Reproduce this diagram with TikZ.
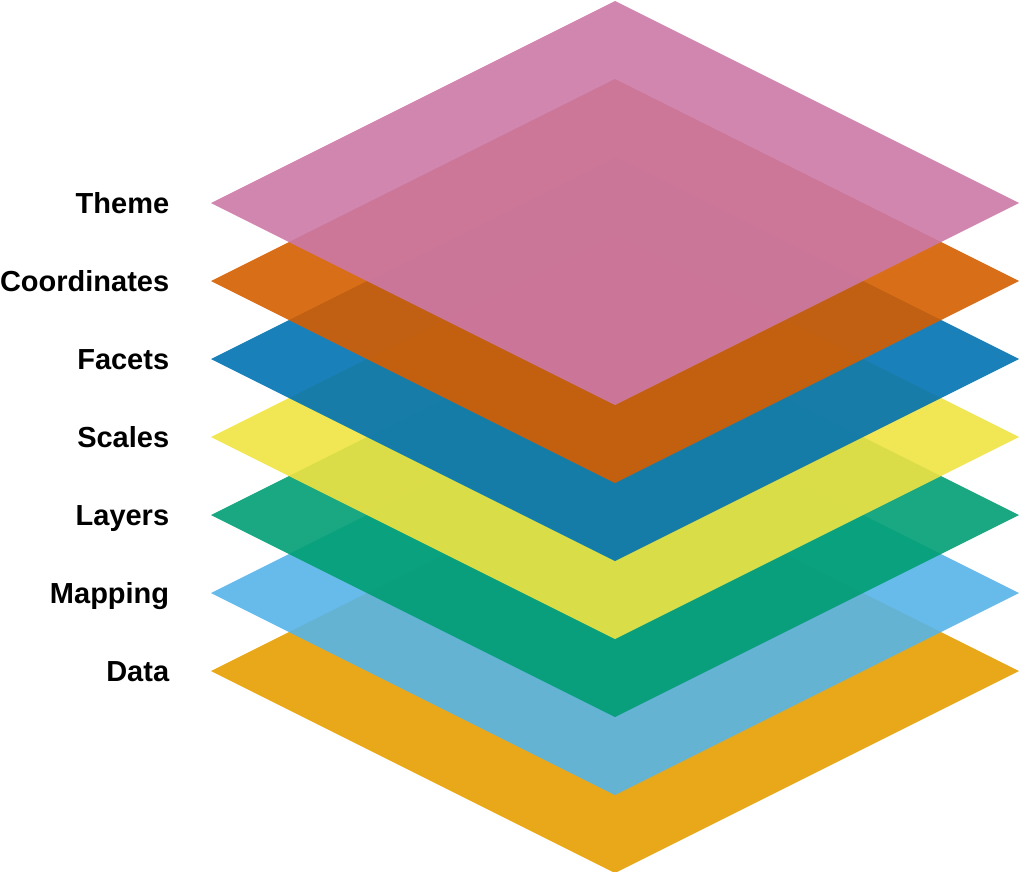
\documentclass[tikz,border=0pt]{standalone}
\usepackage{fontspec}
\setmainfont{Liberation Sans}
\definecolor{dataC}{HTML}{E69F00}
\definecolor{mapC}{HTML}{56B4E9}
\definecolor{layerC}{HTML}{009E73}
\definecolor{scaleC}{HTML}{F0E442}
\definecolor{facetC}{HTML}{0072B2}
\definecolor{coordC}{HTML}{D55E00}
\definecolor{themeC}{HTML}{CC79A7}
\tikzset{
  plane/.style={fill=#1, fill opacity=0.9},
  layerlabel/.style={anchor=base east, inner sep=0pt,
    font=\bfseries\fontsize{16.5}{18}\selectfont}
}

\begin{document}
\begin{tikzpicture}[x=0.02cm,y=-0.02cm]
        \useasboundingbox (0,0) rectangle (1019,872);
        % stack, bottom layer first
        \foreach \name/\col [count=\i from 0] in {Data/dataC,Mapping/mapC,Layers/layerC,Scales/scaleC,Facets/facetC,Coordinates/coordC,Theme/themeC}{
          \pgfmathsetmacro{\yc}{671-78*\i}
          \fill[plane=\col] (211,\yc) -- (615,\yc-202) -- (1019,\yc) -- (615,\yc+202) -- cycle;
          \node[layerlabel] (lbl\i) at (169.5,\yc+10.5) {\name};
        }
       \end{tikzpicture}
\end{document}
